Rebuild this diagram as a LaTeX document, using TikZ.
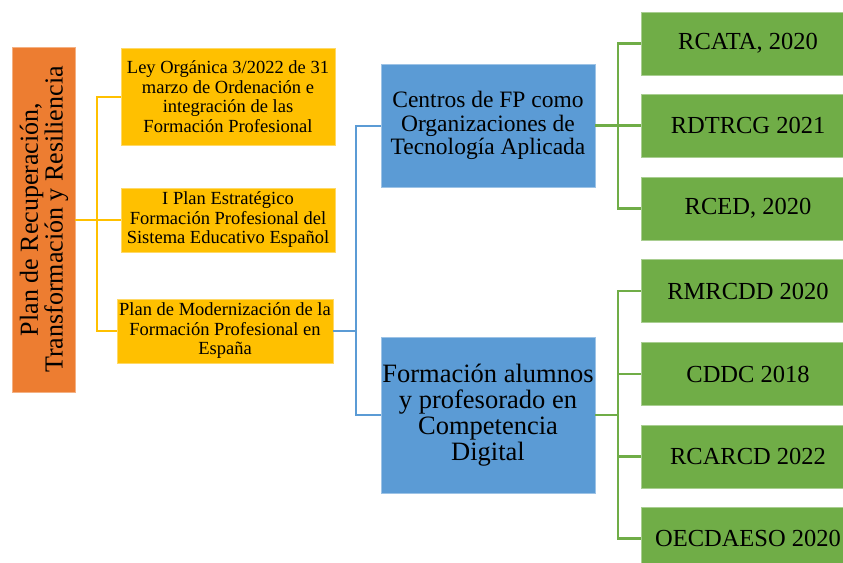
\documentclass[tikz,border=0pt]{standalone}
\usepackage{fontspec}
\setmainfont{Liberation Serif}
\definecolor{cOrange}{HTML}{ED7D31}
\definecolor{cYellow}{HTML}{FFC000}
\definecolor{cBlue}{HTML}{5B9BD5}
\definecolor{cGreen}{HTML}{70AD47}
\tikzset{
  box/.style={rectangle, inner sep=0pt, align=center, text=black, line width=0.8pt},
  orbox/.style={box, fill=cOrange, draw=cOrange!60!white},
  ybox/.style={box, fill=cYellow, draw=cYellow!60!white, minimum width=214pt, font=\fontsize{18.5}{19.5}\selectfont},
  bbox/.style={box, fill=cBlue, draw=cBlue!60!white, minimum width=214pt, font=\fontsize{23.5}{23.5}\selectfont},
  gbox/.style={box, fill=cGreen, draw=cGreen!60!white, minimum width=214pt, minimum height=63pt, font=\fontsize{24.5}{25}\selectfont},
  yl/.style={draw=cYellow, line width=2pt},
  bl/.style={draw=cBlue, line width=2pt},
  gl/.style={draw=cGreen, line width=2.3pt},
}
\begin{document}
\begin{tikzpicture}[x=1pt,y=-1pt]
\useasboundingbox (0,0) rectangle (843,562);
\clip (0,0) rectangle (843,562);
\fill[white] (0,0) rectangle (843,562);

% orange root
\node[orbox, minimum width=63pt, minimum height=345pt] (or) at (43.5,219.5) {};
\node[rotate=90, align=center, inner sep=0pt, font=\fontsize{26}{22.5}\selectfont] (ortxt) at (44,219.5) {Plan de Recuperación,\\Transformación y Resiliencia};

% yellow
\node[ybox, minimum height=97pt] (y1) at (228,96.5) {Ley Orgánica 3/2022 de 31\\marzo de Ordenación e\\integración de las\\Formación Profesional};
\node[ybox, minimum height=64pt] (y2) at (228,220) {I Plan Estratégico\\Formación Profesional del\\Sistema Educativo Español};
\node[ybox, minimum width=216pt, minimum height=64pt] (y3) at (225,331) {Plan de Modernización de la\\Formación Profesional en\\España};

% blue
\node[bbox, minimum height=123pt] (b1) at (488,125.5) {Centros de FP como\\Organizaciones de\\Tecnología Aplicada};
\node[bbox, minimum height=156pt, font=\fontsize{26.5}{26}\selectfont] (b2) at (488,415) {Formación alumnos\\y profesorado en\\Competencia\\Digital};

% green
\node[gbox] (g1) at (748,43.5) {RCATA, 2020};
\node[gbox] (g2) at (748,125.5) {RDTRCG 2021};
\node[gbox] (g3) at (748,208.5) {RCED, 2020};
\node[gbox] (g4) at (748,291) {RMRCDD 2020};
\node[gbox] (g5) at (748,374) {CDDC 2018};
\node[gbox] (g6) at (748,456.5) {RCARCD 2022};
\node[gbox] (g7) at (748,538.5) {OECDAESO 2020};

% junction coordinates
\coordinate (jy) at (97,220);
\coordinate (jb) at (356,331);
\coordinate (jg1) at (618,126);
\coordinate (jg2) at (618,415);

% yellow connectors
\draw[yl] (or.east |- jy) -- (jy);
\draw[yl] (y1.west) -- (y1.west -| jy) -- (y3.west -| jy) -- (y3.west);
\draw[yl] (y2.west) -- (y2.west -| jy);

% blue connectors
\draw[bl] (y3.east) -- (jb);
\draw[bl] (b1.west) -- (b1.west -| jb) -- (b2.west -| jb) -- (b2.west);

% green connectors
\draw[gl] (b1.east) -- (b1.east -| jg1);
\draw[gl] (g1.west) -- (g1.west -| jg1) -- (g3.west -| jg1) -- (g3.west);
\draw[gl] (g2.west) -- (g2.west -| jg1);
\draw[gl] (b2.east) -- (b2.east -| jg2);
\draw[gl] (g4.west) -- (g4.west -| jg2) -- (g7.west -| jg2) -- (g7.west);
\draw[gl] (g5.west) -- (g5.west -| jg2);
\draw[gl] (g6.west) -- (g6.west -| jg2);
\end{tikzpicture}
\end{document}
